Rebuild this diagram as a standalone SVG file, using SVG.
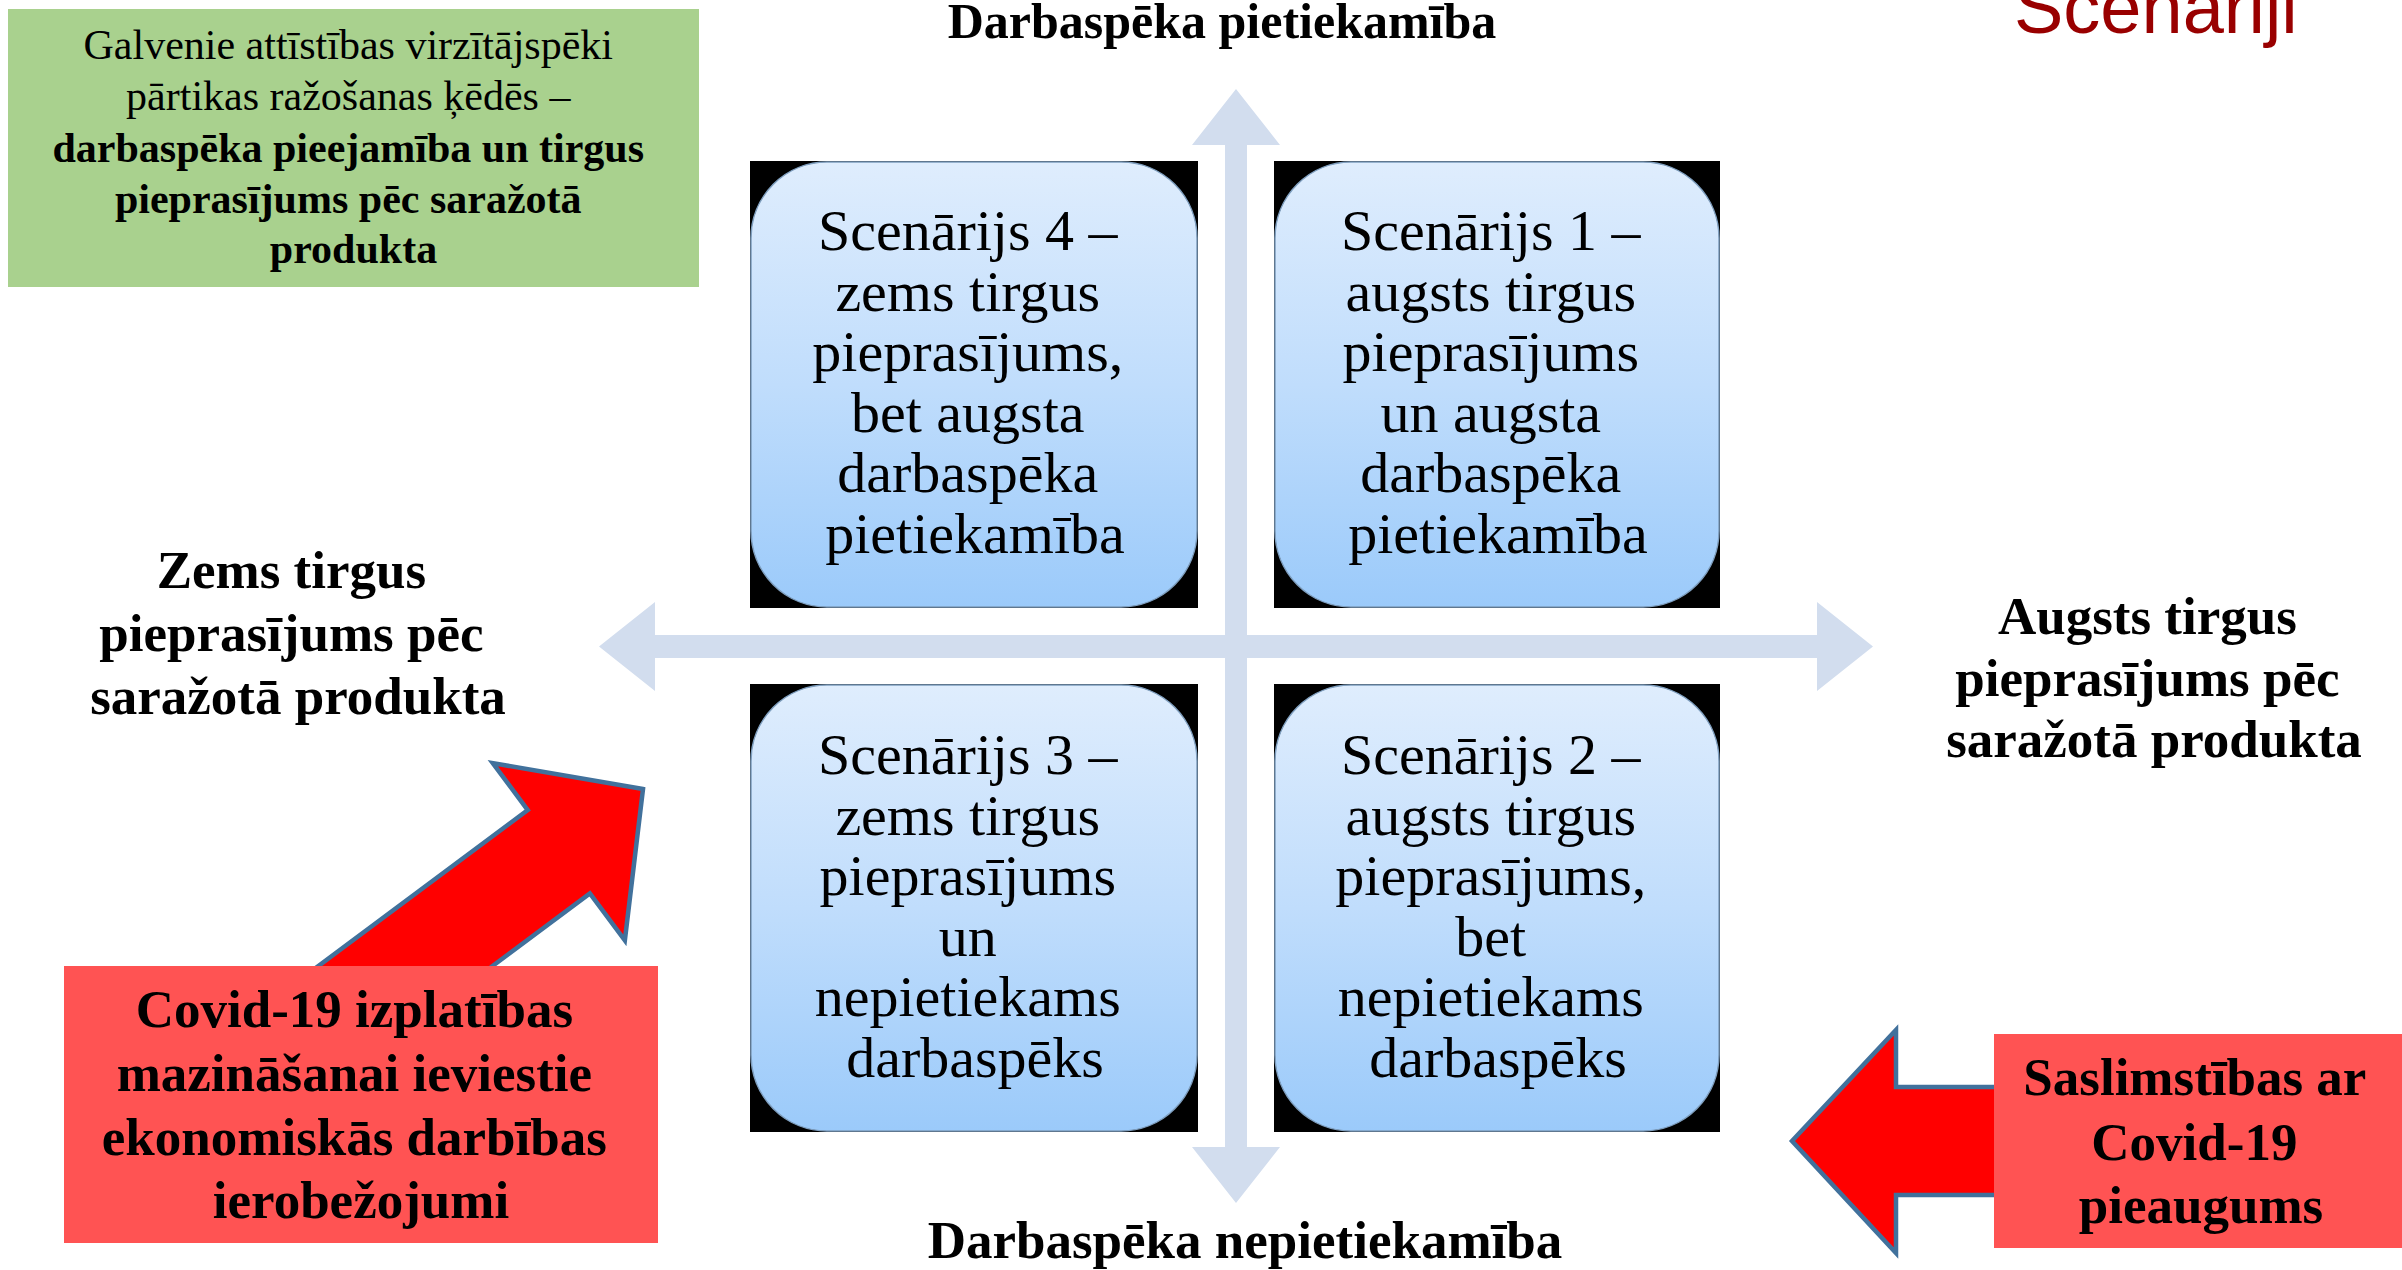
<svg xmlns="http://www.w3.org/2000/svg" width="2402" height="1270" viewBox="0 0 2402 1270">
  <defs>
    <linearGradient id="boxGrad" x1="0" y1="0" x2="0" y2="1">
      <stop offset="0" stop-color="#DFEDFD"/>
      <stop offset="0.5" stop-color="#C0DDFC"/>
      <stop offset="1" stop-color="#9BCAFA"/>
    </linearGradient>
    <style>
      .serif { font-family: "Liberation Serif", "Times New Roman", serif; fill: #000; text-anchor: middle; }
      .box-t { font-size: 58px; }
      .bold { font-weight: bold; }
      .axis { fill: #D2DDEE; }
      .redarrow { fill: #FF0000; stroke: #41719C; stroke-width: 4.5; stroke-linejoin: miter; }
      .redbox { fill: #FF5353; }
      .bg { fill: #000; }
      .rr { fill: url(#boxGrad); stroke: #7f9fbf; stroke-width: 1.5; }
    </style>
  </defs>
  <rect width="2402" height="1270" fill="#FFFFFF"/>

  <g id="connectors">
    <polygon class="axis" points="599,646.5 655,602 655,635 1817,635 1817,602 1873,646.5 1817,691 1817,658 655,658 655,691"/>
    <polygon class="axis" points="1236,89 1280,145 1247,145 1247,1147 1280,1147 1236,1203 1192,1147 1225,1147 1225,145 1192,145"/>
    <polygon class="redarrow" transform="translate(643,789) rotate(-36.7)" points="0,0 -105,-110.5 -105,-52 -420,-52 -420,52 -105,52 -105,110.5"/>
    <polygon class="redarrow" points="1792,1141 1896,1030 1896,1087 2050,1087 2050,1195 1896,1195 1896,1253"/>
  </g>

  <g id="title">
    <text x="2014" y="33" font-family="'Liberation Sans', Arial, sans-serif" font-size="74" fill="#990000">Scenāriji</text>
  </g>

  <g id="drivers">
    <rect x="8" y="9" width="691" height="278" fill="#A9D18E"/>
    <text class="serif" font-size="42">
      <tspan x="353.5" y="59">Galvenie attīstības virzītājspēki</tspan>
      <tspan x="353.5" y="110">pārtikas ražošanas ķēdēs –</tspan>
      <tspan x="353.5" y="162" class="bold">darbaspēka pieejamība un tirgus</tspan>
      <tspan x="353.5" y="213" class="bold">pieprasījums pēc saražotā</tspan>
      <tspan x="353.5" y="263" class="bold">produkta</tspan>
    </text>
  </g>

  <g id="label-top">
    <text class="serif bold" x="1222" y="38" font-size="50">Darbaspēka pietiekamība</text>
  </g>
  <g id="label-bottom">
    <text class="serif bold" x="1245" y="1258" font-size="53">Darbaspēka nepietiekamība</text>
  </g>
  <g id="label-left">
    <text class="serif bold" font-size="53">
      <tspan x="298" y="588">Zems tirgus</tspan>
      <tspan x="298" y="651">pieprasījums pēc</tspan>
      <tspan x="298" y="714">saražotā produkta</tspan>
    </text>
  </g>
  <g id="label-right">
    <text class="serif bold" font-size="53">
      <tspan x="2154" y="634">Augsts tirgus</tspan>
      <tspan x="2154" y="696">pieprasījums pēc</tspan>
      <tspan x="2154" y="757">saražotā produkta</tspan>
    </text>
  </g>

  <g id="scenario4">
    <rect class="bg" x="750" y="161" width="448" height="447"/>
    <rect class="rr" x="751" y="162" width="446" height="445" rx="76" ry="76"/>
    <text class="serif box-t">
      <tspan x="975" y="250">Scenārijs 4 –</tspan>
      <tspan x="975" y="310.5">zems tirgus</tspan>
      <tspan x="975" y="371">pieprasījums,</tspan>
      <tspan x="975" y="431.5">bet augsta</tspan>
      <tspan x="975" y="492">darbaspēka</tspan>
      <tspan x="975" y="552.5">pietiekamība</tspan>
    </text>
  </g>

  <g id="scenario1">
    <rect class="bg" x="1274" y="161" width="446" height="447"/>
    <rect class="rr" x="1275" y="162" width="444" height="445" rx="76" ry="76"/>
    <text class="serif box-t">
      <tspan x="1498" y="250">Scenārijs 1 –</tspan>
      <tspan x="1498" y="310.5">augsts tirgus</tspan>
      <tspan x="1498" y="371">pieprasījums</tspan>
      <tspan x="1498" y="431.5">un augsta</tspan>
      <tspan x="1498" y="492">darbaspēka</tspan>
      <tspan x="1498" y="552.5">pietiekamība</tspan>
    </text>
  </g>

  <g id="scenario3">
    <rect class="bg" x="750" y="684" width="448" height="448"/>
    <rect class="rr" x="751" y="685" width="446" height="446" rx="76" ry="76"/>
    <text class="serif box-t">
      <tspan x="975" y="774">Scenārijs 3 –</tspan>
      <tspan x="975" y="834.6">zems tirgus</tspan>
      <tspan x="975" y="895.2">pieprasījums</tspan>
      <tspan x="975" y="955.8">un</tspan>
      <tspan x="975" y="1016.4">nepietiekams</tspan>
      <tspan x="975" y="1077">darbaspēks</tspan>
    </text>
  </g>

  <g id="scenario2">
    <rect class="bg" x="1274" y="684" width="446" height="448"/>
    <rect class="rr" x="1275" y="685" width="444" height="446" rx="76" ry="76"/>
    <text class="serif box-t">
      <tspan x="1498" y="774">Scenārijs 2 –</tspan>
      <tspan x="1498" y="834.6">augsts tirgus</tspan>
      <tspan x="1498" y="895.2">pieprasījums,</tspan>
      <tspan x="1498" y="955.8">bet</tspan>
      <tspan x="1498" y="1016.4">nepietiekams</tspan>
      <tspan x="1498" y="1077">darbaspēks</tspan>
    </text>
  </g>

  <g id="covid-restrictions">
    <rect class="redbox" x="64" y="966" width="594" height="277"/>
    <text class="serif bold" font-size="53">
      <tspan x="361" y="1027">Covid-19 izplatības</tspan>
      <tspan x="361" y="1091">mazināšanai ieviestie</tspan>
      <tspan x="361" y="1155">ekonomiskās darbības</tspan>
      <tspan x="361" y="1218">ierobežojumi</tspan>
    </text>
  </g>

  <g id="covid-growth">
    <rect class="redbox" x="1994" y="1034" width="408" height="214"/>
    <text class="serif bold" font-size="53">
      <tspan x="2201" y="1095">Saslimstības ar</tspan>
      <tspan x="2201" y="1160">Covid-19</tspan>
      <tspan x="2201" y="1223">pieaugums</tspan>
    </text>
  </g>
</svg>
